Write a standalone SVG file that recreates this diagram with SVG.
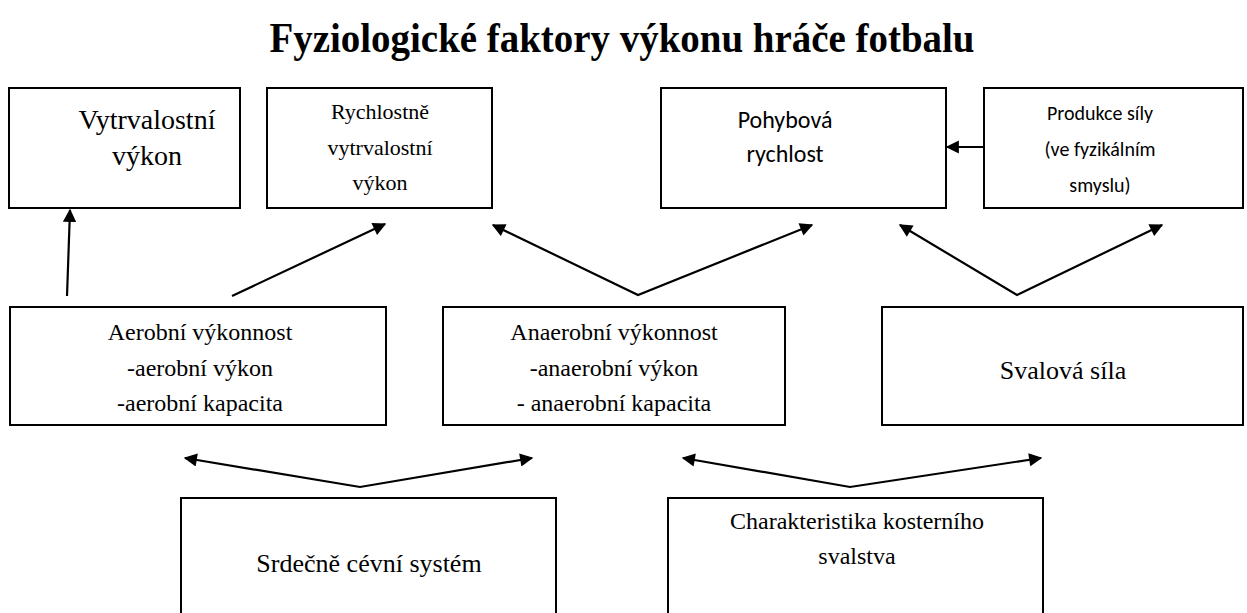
<svg xmlns="http://www.w3.org/2000/svg" width="1247" height="613" viewBox="0 0 1247 613">
<defs>
<style>
.box{fill:#fff;stroke:#000;stroke-width:2}
.t{font-family:"Liberation Serif","Times New Roman",serif;fill:#000;text-anchor:middle}
.s{font-family:Carlito,Calibri,Lato,"Liberation Sans",sans-serif;fill:#000;text-anchor:middle}
.c{fill:none;stroke:#000;stroke-width:2.2}
</style>
<marker id="ah" viewBox="0 0 10 10" refX="9" refY="5" markerWidth="7" markerHeight="6" markerUnits="strokeWidth" orient="auto-start-reverse">
<path d="M0,0 L10,5 L0,10 z" fill="#000"/>
</marker>
</defs>
<rect width="1247" height="613" fill="#fff"/>
<text class="t" x="622" y="52" font-size="43" font-weight="bold" textLength="705" lengthAdjust="spacingAndGlyphs">Fyziologické faktory výkonu hráče fotbalu</text>

<g id="n-vytrvalostni">
<rect class="box" x="9" y="88" width="231" height="120"/>
<text class="t" font-size="28" x="147" y="129">Vytrvalostní</text>
<text class="t" font-size="28" x="147" y="165">výkon</text>
</g>
<g id="n-rychlostne">
<rect class="box" x="267" y="88" width="225" height="120"/>
<text class="t" font-size="22" x="380" y="119">Rychlostně</text>
<text class="t" font-size="22" x="380" y="155">vytrvalostní</text>
<text class="t" font-size="22" x="380" y="190">výkon</text>
</g>
<g id="n-pohybova">
<rect class="box" x="661" y="88" width="285" height="120"/>
<text class="s" font-size="24" x="785" y="128">Pohybová</text>
<text class="s" font-size="24" x="785" y="162">rychlost</text>
</g>
<g id="n-produkce">
<rect class="box" x="984" y="88" width="259" height="120"/>
<text class="s" font-size="20" x="1100" y="120">Produkce síly</text>
<text class="s" font-size="20" x="1100" y="156">(ve fyzikálním</text>
<text class="s" font-size="20" x="1100" y="192">smyslu)</text>
</g>
<g id="n-aerobni">
<rect class="box" x="10" y="307" width="376" height="118"/>
<text class="t" font-size="24" x="200" y="340">Aerobní výkonnost</text>
<text class="t" font-size="24" x="200" y="376">-aerobní výkon</text>
<text class="t" font-size="24" x="200" y="411">-aerobní kapacita</text>
</g>
<g id="n-anaerobni">
<rect class="box" x="443" y="307" width="342" height="118"/>
<text class="t" font-size="24" x="614" y="340">Anaerobní výkonnost</text>
<text class="t" font-size="24" x="614" y="376">-anaerobní výkon</text>
<text class="t" font-size="24" x="614" y="411">- anaerobní kapacita</text>
</g>
<g id="n-svalova">
<rect class="box" x="882" y="307" width="361" height="118"/>
<text class="t" font-size="26" x="1063" y="379">Svalová síla</text>
</g>
<g id="n-srdecne">
<rect class="box" x="181" y="498" width="375" height="130"/>
<text class="t" font-size="26" x="369" y="572">Srdečně cévní systém</text>
</g>
<g id="n-charakteristika">
<rect class="box" x="668" y="498" width="375" height="130"/>
<text class="t" font-size="24" x="857" y="529">Charakteristika kosterního</text>
<text class="t" font-size="24" x="857" y="564">svalstva</text>
</g>

<g id="connectors">
<path class="c" d="M67,296 L70,210" marker-end="url(#ah)"/>
<path class="c" d="M232,296 L385,224" marker-end="url(#ah)"/>
<path class="c" d="M493,225 L638,295 L812,225" marker-start="url(#ah)" marker-end="url(#ah)"/>
<path class="c" d="M900,225 L1017,295 L1162,225" marker-start="url(#ah)" marker-end="url(#ah)"/>
<path class="c" d="M984,147 L947,147" marker-end="url(#ah)"/>
<path class="c" d="M185,458 L360,487 L532,458" marker-start="url(#ah)" marker-end="url(#ah)"/>
<path class="c" d="M683,458 L850,487 L1041,458" marker-start="url(#ah)" marker-end="url(#ah)"/>
</g>
</svg>
